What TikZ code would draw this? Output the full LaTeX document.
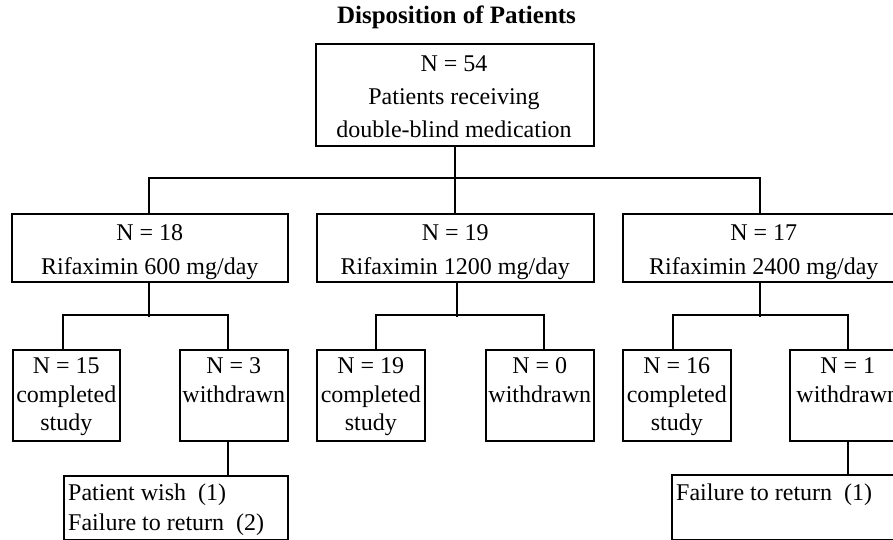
\documentclass[tikz,border=0pt]{standalone}
\usepackage{fontspec}
\setmainfont{Liberation Serif}
\begin{document}
\begin{tikzpicture}[x=1pt,y=-1pt,
  box/.style={draw, line width=1.6pt, inner sep=0pt, anchor=north west},
  txt/.style={font=\fontsize{24}{30}\selectfont, inner sep=0pt, anchor=base},
  ltxt/.style={font=\fontsize{24}{30}\selectfont, inner sep=0pt, anchor=base west},
  conn/.style={line width=1.6pt}]
\useasboundingbox (0,0) rectangle (893,540);
\clip (0,0) rectangle (893,540);
% title
\node[txt, font=\fontsize{25}{30}\selectfont\bfseries] (title) at (456.5,24) {Disposition of Patients};
% top box
\node[box, minimum width=278, minimum height=102] (top) at (315,43) {};
\node[txt] (top1) at (454,72) {N = 54};
\node[txt] (top2) at (454,105) {Patients receiving};
\node[txt] (top3) at (454,138) {double-blind medication};
% level 2
\node[box, minimum width=276, minimum height=68] (A) at (11,213) {};
\node[box, minimum width=277, minimum height=68] (B) at (316,213) {};
\node[box, minimum width=282, minimum height=68] (C) at (622,213) {};
\node[txt] (A1t) at (A.center |- 0,240) {N = 18};
\node[txt] (A2t) at (A.center |- 0,274) {Rifaximin 600 mg/day};
\node[txt] (B1t) at (B.center |- 0,240) {N = 19};
\node[txt] (B2t) at (B.center |- 0,274) {Rifaximin 1200 mg/day};
\node[txt] (C1t) at (C.center |- 0,240) {N = 17};
\node[txt] (C2t) at (C.center |- 0,274) {Rifaximin 2400 mg/day};
% level 3
\node[box, minimum width=107, minimum height=91] (a1) at (12,349) {};
\node[box, minimum width=108, minimum height=91] (a2) at (179,349) {};
\node[box, minimum width=108, minimum height=91] (b1) at (316,349) {};
\node[box, minimum width=108, minimum height=91] (b2) at (485,349) {};
\node[box, minimum width=108, minimum height=91] (c1) at (622,349) {};
\node[box, minimum width=116, minimum height=91] (c2) at (789,349) {};
\node[txt] (a1a) at (a1.center |- 0,373) {N = 15};
\node[txt] (a1b) at (a1.center |- 0,402) {completed};
\node[txt] (a1c) at (a1.center |- 0,430) {study};
\node[txt] (a2a) at (a2.center |- 0,373) {N = 3};
\node[txt] (a2b) at (a2.center |- 0,402) {withdrawn};
\node[txt] (b1a) at (b1.center |- 0,373) {N = 19};
\node[txt] (b1b) at (b1.center |- 0,402) {completed};
\node[txt] (b1c) at (b1.center |- 0,430) {study};
\node[txt] (b2a) at (b2.center |- 0,373) {N = 0};
\node[txt] (b2b) at (b2.center |- 0,402) {withdrawn};
\node[txt] (c1a) at (c1.center |- 0,373) {N = 16};
\node[txt] (c1b) at (c1.center |- 0,402) {completed};
\node[txt] (c1c) at (c1.center |- 0,430) {study};
\node[txt] (c2a) at (c2.center |- 0,373) {N = 1};
\node[txt] (c2b) at (c2.center |- 0,402) {withdrawn};
% reasons
\node[box, minimum width=224, minimum height=64] (D) at (63,475) {};
\node[box, minimum width=234, minimum height=65] (E) at (671,474) {};
\node[ltxt] (D1) at (68,500) {Patient wish\ \ (1)};
\node[ltxt] (D2) at (68,530) {Failure to return\ \ (2)};
\node[ltxt] (E1) at (676,500) {Failure to return\ \ (1)};
% connectors
\draw[conn] (top.south) -- (top.south |- B.north);
\draw[conn] ([xshift=-1]A.north) -- ++(0,-35) -| ([xshift=-4]C.north);
\draw[conn] ([xshift=-1]A.south) -- ++(0,34);
\draw[conn] ([xshift=-3.5]a1.north) -- ++(0,-34) -| ([xshift=-6]a2.north);
\draw[conn] ([xshift=1.5]B.south) -- ++(0,34);
\draw[conn] ([xshift=5]b1.north) -- ++(0,-34) -| ([xshift=4]b2.north);
\draw[conn] ([xshift=-4]C.south) -- ++(0,34);
\draw[conn] ([xshift=-4]c1.north) -- ++(0,-34) -| (c2.north);
\draw[conn] ([xshift=-6]a2.south) -- ([xshift=-6]a2.south |- D.north);
\draw[conn] (c2.south) -- (c2.south |- E.north);
\end{tikzpicture}
\end{document}
